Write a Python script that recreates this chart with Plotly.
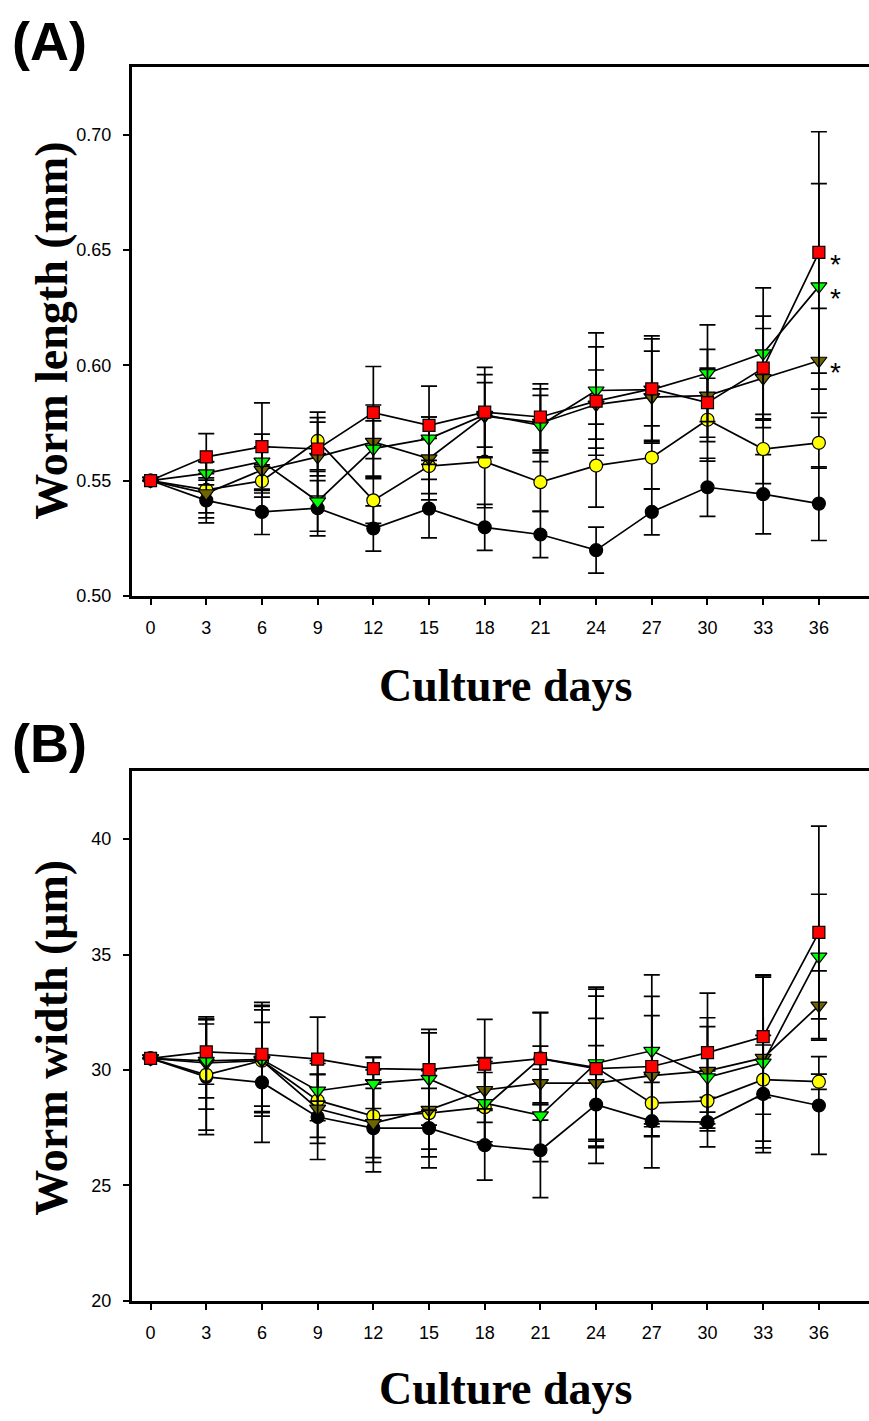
import plotly.graph_objects as go

W, H = 869, 1421

days = [0, 3, 6, 9, 12, 15, 18, 21, 24, 27, 30, 33, 36]
x_ticks = days

# Panel A: worm length (mm)
lenA_black = [0.550, 0.5414, 0.5364, 0.538, 0.5292, 0.5378, 0.5297, 0.5266, 0.5198, 0.5364, 0.5471, 0.5441, 0.540]
lenA_yellow = [0.550, 0.546, 0.5498, 0.5672, 0.5414, 0.5563, 0.5582, 0.5493, 0.5565, 0.560, 0.5764, 0.5637, 0.5664]
lenA_olive = [0.550, 0.5445, 0.5546, 0.5603, 0.5668, 0.5596, 0.578, 0.575, 0.583, 0.5862, 0.5869, 0.5945, 0.602]
lenA_green = [0.550, 0.5531, 0.5582, 0.541, 0.5639, 0.5682, 0.5785, 0.574, 0.5891, 0.5895, 0.5966, 0.6052, 0.6343]
lenA_red = [0.550, 0.5603, 0.5647, 0.5637, 0.5795, 0.574, 0.5797, 0.5776, 0.5845, 0.5898, 0.5838, 0.5988, 0.649]

errA_black = [0, 0.0098, 0.0098, 0.012, 0.0098, 0.0127, 0.010, 0.010, 0.010, 0.010, 0.0126, 0.0172, 0.016]
errA_yellow = [0, 0.0122, 0.007, 0.0125, 0.010, 0.012, 0.020, 0.0127, 0.018, 0.0137, 0.018, 0.015, 0.011]
errA_olive = [0, 0.0085, 0.010, 0.017, 0.016, 0.018, 0.018, 0.012, 0.015, 0.020, 0.020, 0.0215, 0.0227]
errA_green = [0, 0.005, 0.012, 0.013, 0.012, 0.0094, 0.014, 0.0158, 0.025, 0.022, 0.021, 0.0284, 0.0446]
errA_red = [0, 0.0101, 0.019, 0.0117, 0.020, 0.017, 0.0194, 0.0144, 0.0235, 0.023, 0.015, 0.0226, 0.0524]

# Panel B: worm width (um)
widB_black = [30.5, 29.7, 29.46, 27.96, 27.48, 27.48, 26.74, 26.52, 28.5, 27.78, 27.74, 28.96, 28.46]
widB_yellow = [30.5, 29.79, 30.4, 28.68, 28.0, 28.13, 28.39, 30.5, 30.1, 28.56, 28.66, 29.58, 29.49]
widB_olive = [30.5, 30.3, 30.4, 28.32, 27.7, 28.27, 29.13, 29.43, 29.43, 29.75, 29.96, 30.52, 32.79]
widB_green = [30.5, 30.39, 30.45, 29.1, 29.43, 29.61, 28.56, 28.03, 30.29, 30.83, 29.68, 30.32, 34.91]
widB_red = [30.5, 30.78, 30.68, 30.47, 30.06, 30.01, 30.25, 30.49, 30.06, 30.15, 30.75, 31.44, 35.96]

errB_black = [0, 2.5, 2.6, 1.84, 1.9, 1.72, 1.51, 2.05, 2.55, 2.02, 1.07, 2.54, 2.12]
errB_yellow = [0, 2.4, 2.2, 1.6, 2.0, 1.9, 1.5, 2.0, 3.4, 0.9, 1.3, 1.5, 0.33]
errB_olive = [0, 2.0, 2.4, 1.5, 1.5, 1.7, 1.4, 1.6, 2.8, 2.6, 2.3, 3.6, 1.5]
errB_green = [0, 1.6, 2.3, 1.3, 1.1, 2.0, 1.8, 2.0, 3.3, 3.29, 2.2, 3.7, 2.7]
errB_red = [0, 1.4, 2.25, 1.82, 0.5, 1.75, 1.94, 1.98, 3.14, 3.04, 2.58, 2.64, 4.6]

star_values = [lenA_red[-1], lenA_green[-1], lenA_olive[-1]]

styles = [
    ("circle", 13, "#000000"),
    ("circle", 13, "#FFFF00"),
    ("triangle-down", 14, "#6E6400"),
    ("triangle-down", 14, "#00FF00"),
    ("square", 12, "#FF0000"),
]

seriesA = [(lenA_black, errA_black), (lenA_yellow, errA_yellow), (lenA_olive, errA_olive),
           (lenA_green, errA_green), (lenA_red, errA_red)]
seriesB = [(widB_black, errB_black), (widB_yellow, errB_yellow), (widB_olive, errB_olive),
           (widB_green, errB_green), (widB_red, errB_red)]

fig = go.Figure()

def add_series(series, xa, ya):
    for (vals, errs), (sym, size, col) in zip(series, styles):
        fig.add_trace(go.Scatter(
            x=days, y=vals, mode="lines+markers", xaxis=xa, yaxis=ya,
            line=dict(color="black", width=1.7),
            marker=dict(symbol=sym, size=size, color=col, line=dict(color="black", width=1.2)),
            error_y=dict(type="data", array=errs, visible=True, color="black", thickness=1.7, width=8),
            showlegend=False, hoverinfo="skip"))

add_series(seriesA, "x", "y")
add_series(seriesB, "x2", "y2")

def px_x(p):
    return p / W

def px_y(p):
    return 1 - p / H

tickfont = dict(family="Arial, Liberation Sans", size=18, color="black")
axis_common = dict(showline=True, linecolor="black", linewidth=3, ticks="outside",
                   ticklen=6, tickwidth=1.5, tickcolor="black", showgrid=False,
                   zeroline=False, tickfont=tickfont, ticklabelstandoff=8)

xdom = [px_x(132), 1.0]
fig.update_layout(
    width=W, height=H, margin=dict(l=0, r=0, t=0, b=0),
    plot_bgcolor="white", paper_bgcolor="white",
    xaxis=dict(domain=xdom, range=[-1.0, 38.7], tickvals=x_ticks, mirror=True, anchor="y", **axis_common),
    yaxis=dict(domain=[px_y(600), px_y(67)], range=[0.50, 0.7297], tickvals=[0.50, 0.55, 0.60, 0.65, 0.70],
               tickformat=".2f", anchor="x", **axis_common),
    xaxis2=dict(domain=xdom, range=[-1.0, 38.7], tickvals=x_ticks, mirror=True, anchor="y2", **axis_common),
    yaxis2=dict(domain=[px_y(1310), px_y(776)], range=[20, 42.97], tickvals=[20, 25, 30, 35, 40],
                anchor="x2", **axis_common),
)

title_font = dict(family="Liberation Serif, Times New Roman", size=46, color="black")
label_font = dict(family="Liberation Sans, Arial", size=54, color="black")

ann = []
ann.append(dict(text="<b>(A)</b>", x=px_x(49), y=px_y(41), xref="paper", yref="paper",
                showarrow=False, font=label_font, xanchor="center", yanchor="middle"))
ann.append(dict(text="<b>(B)</b>", x=px_x(49), y=px_y(748), xref="paper", yref="paper",
                showarrow=False, font=label_font, xanchor="center", yanchor="middle"))
ann.append(dict(text="<b>Culture days</b>", x=px_x(505), y=px_y(690), xref="paper", yref="paper",
                showarrow=False, font=title_font, xanchor="center", yanchor="middle"))
ann.append(dict(text="<b>Culture days</b>", x=px_x(505), y=px_y(1398), xref="paper", yref="paper",
                showarrow=False, font=title_font, xanchor="center", yanchor="middle"))
ann.append(dict(text="<b>Worm length (mm)</b>", x=px_x(52), y=px_y(333), xref="paper", yref="paper",
                showarrow=False, font=title_font, textangle=-90, xanchor="center", yanchor="middle"))
ann.append(dict(text="<b>Worm width (\u03bcm)</b>", x=px_x(52), y=px_y(1045), xref="paper", yref="paper",
                showarrow=False, font=title_font, textangle=-90, xanchor="center", yanchor="middle"))
for v in star_values:
    ann.append(dict(text="*", x=days[-1], y=v, xref="x", yref="y", showarrow=False,
                    xshift=17, yshift=-12, font=dict(family="Liberation Sans, Arial", size=28, color="black"),
                    xanchor="center", yanchor="middle"))
fig.update_layout(annotations=ann)

fig.write_html("out.html", config={"displayModeBar": False},
               post_script="document.body.style.margin='0';document.body.style.overflow='hidden';"
                           "document.documentElement.style.overflow='hidden';")
